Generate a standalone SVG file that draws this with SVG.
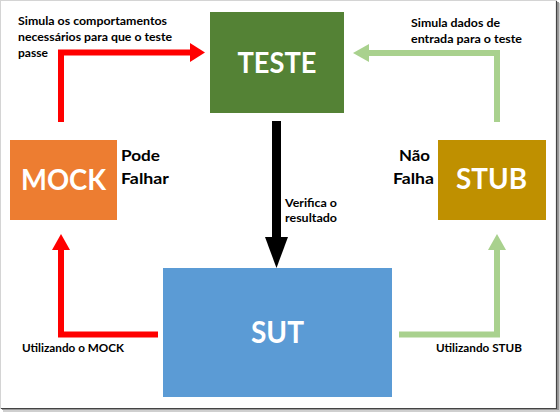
<svg xmlns="http://www.w3.org/2000/svg" width="560" height="412" viewBox="0 0 560 412">
<style>
.box{stroke:none}
.big{font-family:Lato,"Noto Sans","Liberation Sans",sans-serif;font-weight:bold;fill:#fff;text-anchor:middle}
.lbl{font-family:Lato,"Noto Sans","Liberation Sans",sans-serif;font-weight:bold;fill:#000}
.sm{font-size:12px}
.md{font-size:16px}
.red{fill:none;stroke:#ff0000;stroke-width:6}
.grn{fill:none;stroke:#a9d18e;stroke-width:6}
.blk{fill:none;stroke:#000;stroke-width:9}
</style>
<rect x="0" y="0" width="560" height="412" fill="#ffffff"/>
<rect x="3" y="3" width="557" height="409" fill="#cfcfcf"/>
<rect x="2" y="2" width="557" height="408" fill="#999999"/>
<rect x="0.5" y="0.5" width="556" height="408" fill="#ffffff" stroke="#d4d4d4"/>
<path d="M556.5 1V408.5H1" fill="none" stroke="#444" stroke-width="1.2"/>

<g id="connectors">
  <polyline class="red" points="61,122 61,52.5 191,52.5"/>
  <polygon fill="#ff0000" points="190,43 205,52.5 190,62"/>
  <polyline class="red" points="158,334.5 61,334.5 61,249"/>
  <polygon fill="#ff0000" points="52,250 61,234 70,250"/>
  <polyline class="grn" points="497,122 497,53 368,53"/>
  <polygon fill="#a9d18e" points="369,44 353,53 369,62"/>
  <polyline class="grn" points="399,334.5 497,334.5 497,249"/>
  <polygon fill="#a9d18e" points="488,250 497,234 506,250"/>
  <line class="blk" x1="276.5" y1="121" x2="276.5" y2="238"/>
  <polygon fill="#000" points="265,237 288,237 276.5,268"/>
</g>

<g id="teste">
  <rect class="box" x="210" y="12" width="134" height="101" fill="#548235"/>
  <text class="big" x="277" y="73" font-size="28" textLength="79" lengthAdjust="spacingAndGlyphs">TESTE</text>
</g>
<g id="mock">
  <rect class="box" x="10" y="140" width="107" height="80" fill="#ed7d31"/>
  <text class="big" x="63.5" y="190" font-size="28" textLength="85" lengthAdjust="spacingAndGlyphs">MOCK</text>
</g>
<g id="stub">
  <rect class="box" x="438" y="140" width="108" height="80" fill="#bf9000"/>
  <text class="big" x="491.5" y="189" font-size="28" textLength="71" lengthAdjust="spacingAndGlyphs">STUB</text>
</g>
<g id="sut">
  <rect class="box" x="163" y="268" width="229" height="129" fill="#5b9bd5"/>
  <text class="big" x="277.5" y="343" font-size="31" textLength="53" lengthAdjust="spacingAndGlyphs">SUT</text>
</g>

<g id="labels">
  <text class="lbl sm" x="18" y="25" textLength="149" lengthAdjust="spacingAndGlyphs">Simula os comportamentos</text>
  <text class="lbl sm" x="18" y="41" textLength="154" lengthAdjust="spacingAndGlyphs">necessários para que o teste</text>
  <text class="lbl sm" x="18" y="57" textLength="30" lengthAdjust="spacingAndGlyphs">passe</text>
  <text class="lbl sm" x="411" y="27" textLength="89" lengthAdjust="spacingAndGlyphs">Simula dados de</text>
  <text class="lbl sm" x="411" y="43" textLength="111" lengthAdjust="spacingAndGlyphs">entrada para o teste</text>
  <text class="lbl sm" x="285" y="207" textLength="52" lengthAdjust="spacingAndGlyphs">Verifica o</text>
  <text class="lbl sm" x="285" y="222" textLength="52" lengthAdjust="spacingAndGlyphs">resultado</text>
  <text class="lbl md" x="121" y="161" textLength="39" lengthAdjust="spacingAndGlyphs">Pode</text>
  <text class="lbl md" x="121" y="184" textLength="48" lengthAdjust="spacingAndGlyphs">Falhar</text>
  <text class="lbl md" x="414.5" y="161" text-anchor="middle" textLength="31" lengthAdjust="spacingAndGlyphs">Não</text>
  <text class="lbl md" x="413.5" y="184" text-anchor="middle" textLength="41" lengthAdjust="spacingAndGlyphs">Falha</text>
  <text class="lbl sm" x="22" y="352" textLength="102" lengthAdjust="spacingAndGlyphs">Utilizando o MOCK</text>
  <text class="lbl sm" x="436" y="352" textLength="86" lengthAdjust="spacingAndGlyphs">Utilizando STUB</text>
</g>
</svg>
